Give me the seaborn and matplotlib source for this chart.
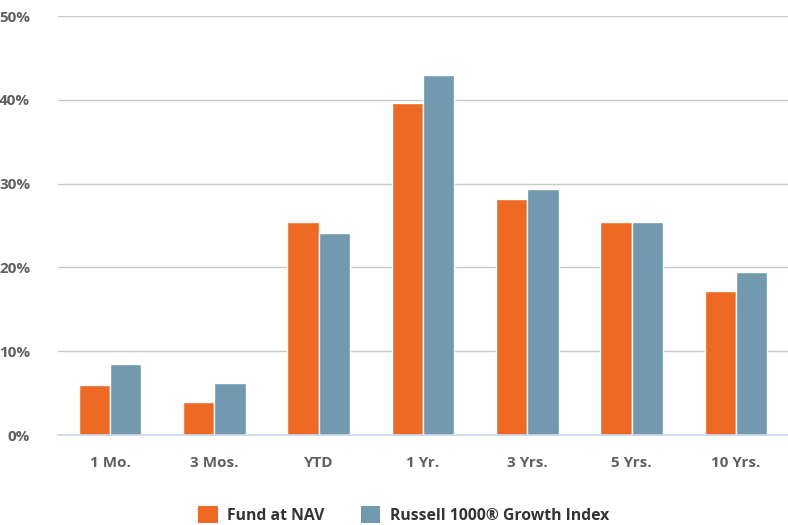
import pandas as pd
import numpy as np
import matplotlib
matplotlib.use('Agg')
import matplotlib.pyplot as plt
import seaborn as sns
from matplotlib.patches import Patch

periods = ['1 Mo.', '3 Mos.', 'YTD', '1 Yr.', '3 Yrs.', '5 Yrs.', '10 Yrs.']
fund = [6.0, 3.9, 25.4, 39.6, 28.2, 25.4, 17.2]
index = [8.5, 6.2, 24.1, 43.0, 29.4, 25.4, 19.4]
series = ['Fund at NAV', 'Russell 1000® Growth Index']
colors = ['#ee6a24', '#7399ae']
yticks = [0, 10, 20, 30, 40, 50]

df = pd.DataFrame({
    'period': periods * 2,
    'value': fund + index,
    'series': [series[0]] * len(periods) + [series[1]] * len(periods),
})

sns.set_style('white')
plt.rcParams['font.family'] = ['Open Sans', 'DejaVu Sans']

fig = plt.figure(figsize=(7.88, 5.25), dpi=100)
ax = fig.add_axes([0.0736, 0.1714, 0.9264, 0.7981])

sns.barplot(data=df, x='period', y='value', hue='series', order=periods,
            hue_order=series, palette=colors, width=0.6, ax=ax,
            edgecolor='white', linewidth=1, legend=False, saturation=1)

ax.set_ylim(0, 50)
ax.set_xlim(-0.5, len(periods) - 0.5)
ax.set_yticks(yticks)
ax.set_yticklabels([f'{t}%' for t in yticks])
ax.set_xlabel('')
ax.set_ylabel('')

ax.yaxis.grid(True, color='#c8c8c8', linewidth=1)
ax.set_axisbelow(True)
for s in ['top', 'right', 'left']:
    ax.spines[s].set_visible(False)
ax.spines['bottom'].set_color('#ccd6eb')
ax.spines['bottom'].set_linewidth(1.2)

ax.tick_params(axis='y', length=0, pad=20, labelsize=11, labelcolor='#606060')
ax.tick_params(axis='x', which='major', length=0, pad=15, labelsize=11,
               labelcolor='#606060')
ax.set_xticks(np.arange(len(periods) + 1) - 0.5, minor=True)
ax.tick_params(axis='x', which='minor', length=9, width=1, color='#ccd6eb')
for lab in ax.get_xticklabels() + ax.get_yticklabels():
    lab.set_fontweight('bold')

handles = [Patch(facecolor=c, edgecolor='none') for c in colors]
fig.legend(handles, series, loc='lower center', bbox_to_anchor=(0.512, -0.016),
           ncol=2, frameon=False, handlelength=1.25, handleheight=1.25,
           columnspacing=2.3, handletextpad=0.6, borderaxespad=0.2,
           prop={'size': 11.3, 'weight': 'bold'}, labelcolor='#333333')

fig.savefig('out.png', dpi=100)
